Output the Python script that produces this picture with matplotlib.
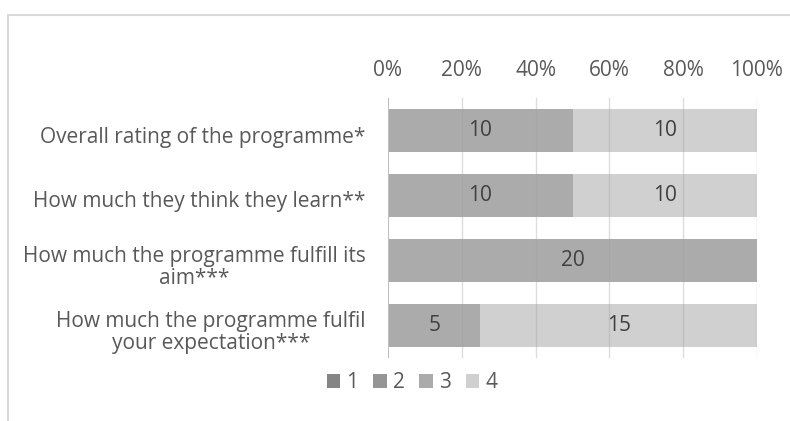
import matplotlib
matplotlib.use("Agg")
import matplotlib.pyplot as plt
from matplotlib.patches import Patch
from matplotlib.lines import Line2D
from matplotlib.transforms import ScaledTranslation

plt.rcParams['font.family'] = ['Open Sans', 'DejaVu Sans']

categories = [
    "Overall rating of the programme*",
    "How much they think they learn**",
    "How much the programme fulfill its\naim***",
    "How much the programme fulfil\nyour expectation***",
]
series_names = ["1", "2", "3", "4"]
series_values = [
    [0, 0, 0, 0],
    [0, 0, 0, 0],
    [10, 10, 20, 5],
    [10, 10, 0, 15],
]
series_colors = ["#858585", "#959595", "#ababab", "#d0d0d0"]
x_ticks = [0, 20, 40, 60, 80, 100]
x_tick_labels = ["0%", "20%", "40%", "60%", "80%", "100%"]

W, H = 790, 421
FS = 15
fig = plt.figure(figsize=(W / 100, H / 100), dpi=100)

# chart-area frame
fig.add_artist(Line2D([8 / W, 8 / W], [0, 1 - 15 / H], color="#d9d9d9", lw=1.5,
                      transform=fig.transFigure))
fig.add_artist(Line2D([8 / W, 1], [1 - 15 / H, 1 - 15 / H], color="#d9d9d9", lw=1.5,
                      transform=fig.transFigure))

ax = fig.add_axes([388 / W, 1 - 358 / H, (757 - 388) / W, (358 - 98) / H])

totals = [sum(s[i] for s in series_values) for i in range(len(categories))]
ypos = list(range(len(categories)))
left = [0.0] * len(categories)
for name, vals, col in zip(series_names, series_values, series_colors):
    pct = [v / t * 100 if t else 0 for v, t in zip(vals, totals)]
    ax.barh(ypos, pct, left=left, height=0.66, color=col, zorder=1, label=name)
    for y, v, p, l in zip(ypos, vals, pct, left):
        if v:
            ax.text(l + p / 2, y, str(v), ha="center", va="center",
                    fontsize=FS, color="#404040", zorder=3)
    left = [a + b for a, b in zip(left, pct)]

ax.set_xlim(0, 100)
ax.set_ylim(len(categories) - 0.5, -0.5)
ax.set_xticks(x_ticks)
ax.set_xticklabels(x_tick_labels)
ax.xaxis.tick_top()
ax.tick_params(axis="x", length=0, pad=12, labelsize=FS, labelcolor="#595959")
ax.set_yticks(ypos)
ax.set_yticklabels(categories, multialignment="center", linespacing=1.05)
ax.tick_params(axis="y", length=0, pad=16, labelsize=FS, labelcolor="#595959")
shift = ScaledTranslation(0, -4 / 100, fig.dpi_scale_trans)
for lbl in ax.get_yticklabels():
    lbl.set_transform(lbl.get_transform() + shift)
for x in x_ticks[1:]:
    ax.axvline(x, color="#a0a0a0", lw=1, alpha=0.35, zorder=2)
ax.axvline(0, color="#bfbfbf", lw=1.5, zorder=2)
for s in ax.spines.values():
    s.set_visible(False)

handles = [Patch(facecolor=c, edgecolor="none") for c in series_colors]
fig.legend(handles, series_names, loc="center", bbox_to_anchor=(412 / W, 1 - 383 / H),
           ncol=4, frameon=False, fontsize=FS, labelcolor="#595959",
           handlelength=0.65, handleheight=0.65, handletextpad=0.3, columnspacing=0.7)

fig.savefig("out.png", dpi=100)
